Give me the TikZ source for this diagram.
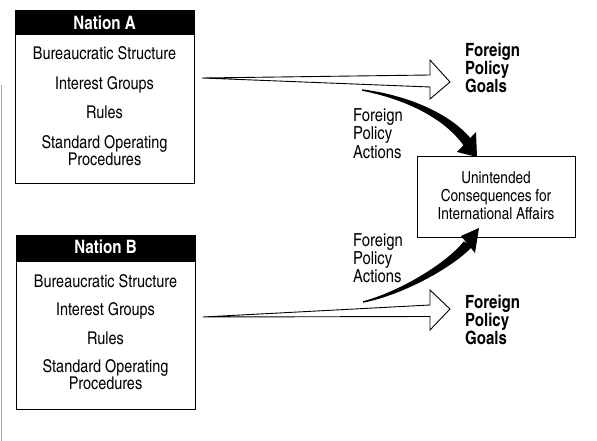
\documentclass[tikz,border=0pt]{standalone}
\usepackage{fontspec}
\setmainfont{texgyreheroscn}[Extension=.otf,UprightFont=*-regular,BoldFont=*-bold,ItalicFont=*-italic,BoldItalicFont=*-bolditalic]
\usetikzlibrary{calc}

\begin{document}
\begin{tikzpicture}[x=1pt,y=-1pt,
  body/.style={font=\fontsize{17.6}{18}\selectfont, inner sep=0pt, anchor=base},
  boxtxt/.style={font=\fontsize{16.6}{18}\selectfont, inner sep=0pt, anchor=base},
  lefttxt/.style={font=\fontsize{18}{18}\selectfont, inner sep=0pt, anchor=base west},
  goaltxt/.style={font=\fontsize{18.3}{18}\selectfont\bfseries, inner sep=0pt, anchor=base west},
  hdrtxt/.style={font=\fontsize{18.5}{20}\selectfont\bfseries, text=white, inner sep=0pt, anchor=base},
  nationbox/.style={draw=black, line width=1.2pt, fill=white, inner sep=0pt, anchor=north west,
                    minimum width=179pt, minimum height=173pt},
  hdrbar/.style={fill=black, inner sep=0pt, anchor=north west, minimum width=179pt},
  resultbox/.style={draw=black, line width=1pt, fill=white, inner sep=0pt, anchor=north west,
                    minimum width=158pt, minimum height=81pt},
  hollowarrow/.style={draw=black, line width=0.9pt, fill=white, line join=miter},
  solidarrow/.style={fill=black, draw=none}
]
\useasboundingbox (0,0) rectangle (597,441);

% page edge line on the left
\draw[gray!70, line width=0.8pt] (1.5,85) -- (1.5,441);

% ---------- Nation A ----------
\node[nationbox] (natA) at (15,10) {};
\node[hdrbar, minimum height=25pt] (barA) at (15,10) {};
\node[hdrtxt] (titleA) at (104.5,30) {Nation A};
\node[body] (bsA) at (104.5,60) {Bureaucratic Structure};
\node[body] (igA) at (104.5,90) {Interest Groups};
\node[body] (ruA) at (104.5,119) {Rules};
\node[body] (soA) at (104.5,149) {Standard Operating};
\node[body] (prA) at (104.5,165) {Procedures};

% ---------- Nation B ----------
\node[nationbox, minimum height=174pt] (natB) at (16,235) {};
\node[hdrbar, minimum height=27pt] (barB) at (16,235) {};
\node[hdrtxt] (titleB) at (105.5,253) {Nation B};
\node[body] (bsB) at (105.5,287) {Bureaucratic Structure};
\node[body] (igB) at (105.5,315) {Interest Groups};
\node[body] (ruB) at (105.5,344) {Rules};
\node[body] (soB) at (105.5,372) {Standard Operating};
\node[body] (prB) at (105.5,389) {Procedures};

% ---------- Unintended consequences ----------
\node[resultbox] (res) at (417,156) {};
\node[boxtxt] (res1) at (496,183) {Unintended};
\node[boxtxt] (res2) at (496,201) {Consequences for};
\node[boxtxt] (res3) at (496,219) {International Affairs};

% ---------- Goals labels ----------
\node[goaltxt] (gA1) at (465,57) {Foreign};
\node[goaltxt] (gA2) at (465,75) {Policy};
\node[goaltxt] (gA3) at (465,93) {Goals};
\node[goaltxt] (gB1) at (465,308) {Foreign};
\node[goaltxt] (gB2) at (465,326) {Policy};
\node[goaltxt] (gB3) at (465,344) {Goals};

% ---------- Actions labels ----------
\node[lefttxt] (aA1) at (353,122) {Foreign};
\node[lefttxt] (aA2) at (353,140) {Policy};
\node[lefttxt] (aA3) at (353,158) {Actions};
\node[lefttxt] (aB1) at (353,246) {Foreign};
\node[lefttxt] (aB2) at (353,264) {Policy};
\node[lefttxt] (aB3) at (353,282) {Actions};

% ---------- hollow wedge arrows toward the goals ----------
\coordinate (wA0) at (202,78);
\coordinate (wAtip) at (450,82);
\draw[hollowarrow] (wA0) -- (430,75) -- (430,60) -- (wAtip) -- (430,99) -- (430,87) -- cycle;

\coordinate (wB0) at (203,317);
\coordinate (wBtip) at (450,309);
\draw[hollowarrow] (wB0) -- (430,305) -- (430,290) -- (wBtip) -- (430,330) -- (430,316.5) -- cycle;

% ---------- tapered black arrows into the consequences box ----------
% from Nation A actions, downward
\fill[solidarrow] (362,89.3) .. controls (405.4,94.8) and (450.2,112.6) .. (472.0,140.0)
  -- (464.0,146.0) .. controls (443.8,117.4) and (404.6,99.2) .. (362,90.7) -- cycle;
\fill[solidarrow] (476,132) -- (477,157) -- (457,152) -- cycle;

% from Nation B actions, upward
\fill[solidarrow] (363,301.3) .. controls (401.5,290.8) and (446.7,262.8) .. (463.8,241.4)
  -- (472.2,246.6) .. controls (453.3,267.2) and (402.5,295.2) .. (363,302.7) -- cycle;
\fill[solidarrow] (461,236) -- (479,228) -- (475,253) -- cycle;

\end{tikzpicture}
\end{document}
